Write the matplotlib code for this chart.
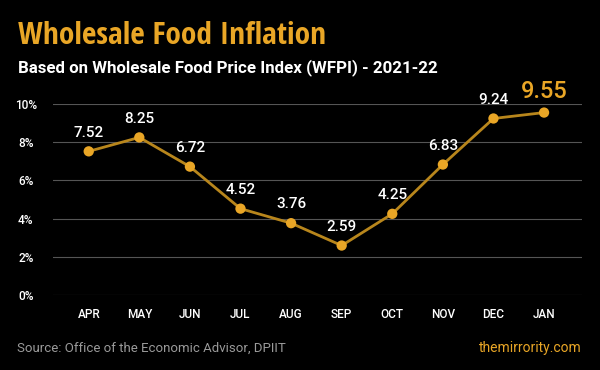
import matplotlib
matplotlib.use("Agg")
import matplotlib.pyplot as plt
from matplotlib import font_manager
from matplotlib.font_manager import FontProperties
from matplotlib.textpath import TextPath

months = ["APR", "MAY", "JUN", "JUL", "AUG", "SEP", "OCT", "NOV", "DEC", "JAN"]
inflation = [7.52, 8.25, 6.72, 4.52, 3.76, 2.59, 4.25, 6.83, 9.24, 9.55]
yticks = [0, 2, 4, 6, 8, 10]
ytick_labels = ["0%", "2%", "4%", "6%", "8%", "10%"]

TITLE = "Wholesale Food Inflation"


def weight_val(w):
    if isinstance(w, (int, float)):
        return w
    table = {"bold": 700, "heavy": 800, "black": 900, "extra bold": 800,
             "semibold": 600, "demibold": 600, "medium": 500}
    return table.get(str(w), 400)


ALLOWED = ("roboto", "liberation sans", "dejavu sans", "noto sans", "open sans",
           "lato", "inter")

# pick the narrowest bold sans face among the standard families
best = None
for f in font_manager.fontManager.ttflist:
    if weight_val(f.weight) < 600 or f.style != "normal":
        continue
    name = f.name.lower()
    if not name.startswith(ALLOWED):
        continue
    if "mono" in name or "cjk" in name or "serif" in name or "slab" in name:
        continue
    try:
        fp = FontProperties(fname=f.fname, size=30)
        ext = TextPath((0, 0), TITLE, prop=fp).get_extents()
        capext = TextPath((0, 0), "H", prop=fp).get_extents()
        ratio = ext.width / capext.height
    except Exception:
        continue
    if best is None or ratio < best[0]:
        best = (ratio, f.fname)

# reference title: ~248 px wide, cap height ~30 px
if best is not None:
    ratio = best[0]
    fp30 = FontProperties(fname=best[1], size=30)
    cap30 = TextPath((0, 0), "H", prop=fp30).get_extents().height * 100 / 72
    w30 = ratio * cap30
    size = 30 * min(30 / cap30, 305 / w30)
    title_fp = FontProperties(fname=best[1], size=size)
else:
    title_fp = FontProperties(family="Roboto", weight="bold", size=20)

GOLD = "#E9A626"
LINE = "#B8861C"

fig = plt.figure(figsize=(6, 3.7), dpi=100, facecolor="black")
ax = fig.add_axes([0.088, 0.2027, 0.882, 0.5163])
ax.set_facecolor("black")

x = list(range(len(months)))
ax.plot(x, inflation, color=LINE, lw=2, zorder=3)
ax.scatter(x, inflation, s=55, color=GOLD, zorder=4, edgecolors="none")

for i, v in enumerate(inflation):
    if i == len(inflation) - 1:
        ax.annotate(f"{v:.2f}", (i, v), xytext=(0, 7), textcoords="offset points",
                    ha="center", va="bottom", color=GOLD, fontsize=17,
                    family="Roboto", fontweight="medium")
    else:
        ax.annotate(f"{v:.2f}", (i, v), xytext=(0, 8.5), textcoords="offset points",
                    ha="center", va="bottom", color="white", fontsize=11,
                    family="Roboto", fontweight="medium")

ax.set_xlim(-0.71, 9.75)
ax.set_ylim(0, 10)
ax.set_yticks(yticks)
ax.set_yticklabels(ytick_labels, family="Roboto", fontsize=8.5, color="white",
                   fontweight="medium")
ax.set_xticks(x)
ax.set_xticklabels(months, family="Roboto", fontsize=8.5, color="white",
                   fontweight="medium")
ax.tick_params(axis="both", length=0)
ax.tick_params(axis="y", pad=19.5)
ax.tick_params(axis="x", pad=9)
for lbl in ax.get_yticklabels():
    lbl.set_horizontalalignment("center")
ax.grid(axis="y", color="#555555", lw=0.8)
ax.set_axisbelow(True)
for s in ax.spines.values():
    s.set_visible(False)

fig.text(18 / 600, 1 - 44 / 370, TITLE, fontproperties=title_fp,
         color=GOLD, ha="left", va="baseline")
fig.text(18 / 600, 1 - 72 / 370, "Based on Wholesale Food Price Index (WFPI) - 2021-22",
         family="Roboto", fontweight="bold", fontsize=12.2, color="white",
         ha="left", va="baseline")
fig.text(17 / 600, 1 - 352 / 370, "Source: Office of the Economic Advisor, DPIIT",
         family="Roboto", fontsize=9.5, color="#9a9a9a", ha="left", va="baseline")
fig.text(582 / 600, 1 - 352 / 370, "themirrority.com",
         family="Roboto", fontsize=10, color=GOLD, ha="right", va="baseline")

fig.savefig("out.png", dpi=100, facecolor="black")
